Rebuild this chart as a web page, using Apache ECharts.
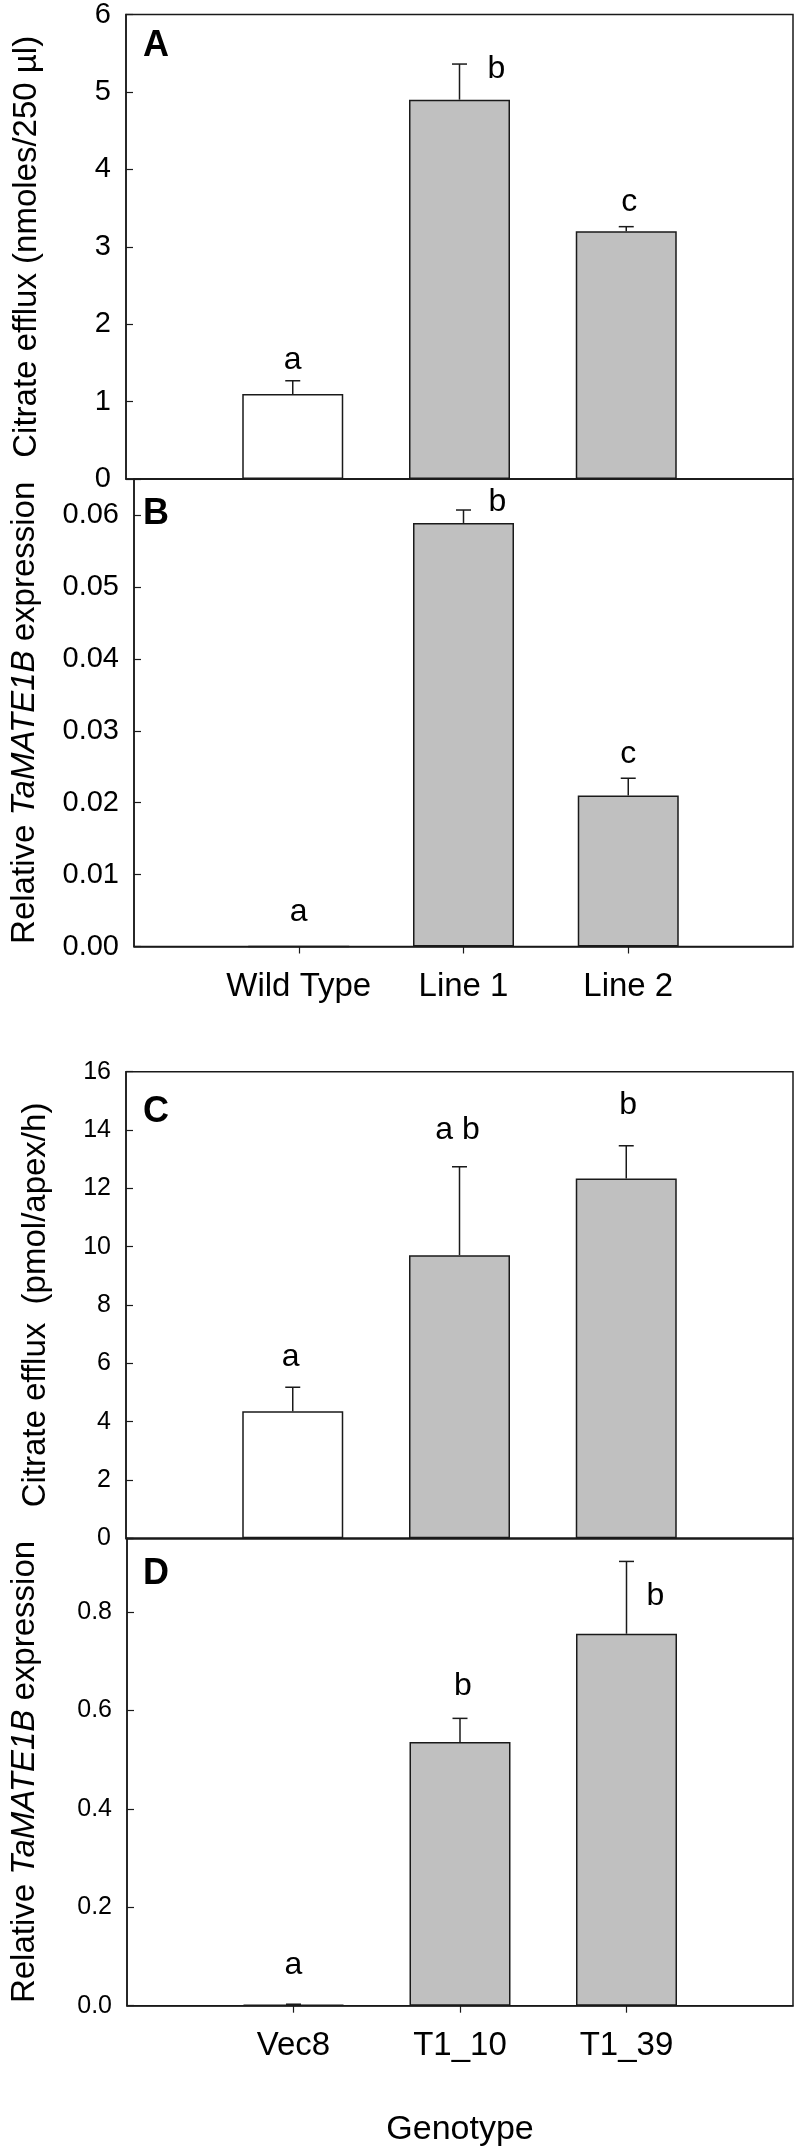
<!DOCTYPE html>
<html>
<head>
<meta charset="utf-8">
<script src="https://cdn.jsdelivr.net/npm/echarts@6/dist/echarts.min.js"></script>
<style>html,body{margin:0;padding:0;background:#fff}#c{width:797px;height:2153px}</style>
</head>
<body>
<div id="c"></div>
<script>
// ---------- data ----------
const catsTop = ['Wild Type', 'Line 1', 'Line 2'];
const citrateA = [1.10, 4.90, 3.20];
const citrateAErr = [0.17, 0.46, 0.06];
const lettersA = ['a', 'b', 'c'];

const exprB = [0, 0.0589, 0.0210];
const exprBErr = [0, 0.0018, 0.0024];
const lettersB = ['a', 'b', 'c'];

const catsBottom = ['Vec8', 'T1_10', 'T1_39'];
const citrateC = [4.36, 9.71, 12.34];
const citrateCErr = [0.82, 3.03, 1.12];
const lettersC = ['a', 'a b', 'b'];

const exprD = [0.002, 0.536, 0.756];
const exprDErr = [0.001, 0.048, 0.147];
const lettersD = ['a', 'b', 'b'];

const ticksA = [0, 1, 2, 3, 4, 5, 6];
const ticksB = [0, 0.01, 0.02, 0.03, 0.04, 0.05, 0.06];
const ticksC = [0, 2, 4, 6, 8, 10, 12, 14, 16];
const ticksD = [0, 0.2, 0.4, 0.6, 0.8];

// ---------- layout / style ----------
const FONT = 'Liberation Sans, Arial, Helvetica, sans-serif';
const INK = '#1a1a1a';
const grids = [
  {left: 126, right: 4, top: 12.7, height: 466.4},
  {left: 126, right: 4, top: 479.1, height: 467.4},
  {left: 126, right: 4, top: 1071.7, height: 466.6},
  {left: 126, right: 4, top: 1538.3, height: 467.4}
];
// letter offsets (px) relative to the top of each error bar
const offA = [[0, -21], [37, 5], [3, -24]];
const offB = [[0, -34], [34, -8], [0, -24]];
const offC = [[-2, -30], [-2, -37], [2, -41]];
const offD = [[0, -39], [3, -32], [29, 35]];

function padCats(c) { return [''].concat(c, ['']); }

function barData(vals) {
  return vals.map((v, i) => ({
    value: [i + 1, v],
    itemStyle: {color: i === 0 ? '#ffffff' : '#c0c0c0', borderColor: INK, borderWidth: 1.5}
  }));
}
function errData(vals, errs) {
  return vals.map((v, i) => [i + 1, v, errs[i]]);
}
function errSeries(idx, vals, errs, letters, offs) {
  return {
    type: 'custom', xAxisIndex: idx, yAxisIndex: idx, z: 5,
    data: errData(vals, errs),
    renderItem: function (params, api) {
      const x = api.value(0), m = api.value(1), e = api.value(2);
      const base = api.coord([x, m]);
      const top = api.coord([x, m + e]);
      const ch = [];
      if (e > 0) {
        ch.push({type: 'line', shape: {x1: base[0], y1: base[1], x2: top[0], y2: top[1]},
          style: {stroke: INK, lineWidth: 1.5}});
        ch.push({type: 'line', shape: {x1: top[0] - 7.5, y1: top[1], x2: top[0] + 7.5, y2: top[1]},
          style: {stroke: INK, lineWidth: 1.5}});
      }
      const o = offs[params.dataIndex];
      ch.push({type: 'text', x: top[0] + o[0], y: top[1] + o[1],
        style: {text: letters[params.dataIndex], fill: '#000', font: '32px ' + FONT,
          align: 'center', verticalAlign: 'middle'}});
      return {type: 'group', children: ch};
    }
  };
}

function xAxisCfg(idx, cats, showLabels) {
  return {
    type: 'category', gridIndex: idx, data: padCats(cats), boundaryGap: false,
    axisLine: {show: true, lineStyle: {color: INK, width: 1.5}},
    axisTick: {show: showLabels, inside: false, length: 7, lineStyle: {color: INK, width: 1.2},
      interval: function (i, v) { return v !== ''; }},
    axisLabel: {show: showLabels, margin: 24, fontSize: 33, fontFamily: FONT, color: '#000', interval: 0},
    splitLine: {show: false}
  };
}
function yAxisCfg(idx, min, max, interval, ticks, digits, fs, name, nameGap, margin) {
  return {
    type: 'value', gridIndex: idx, min: min, max: max, interval: interval,
    axisLine: {show: true, lineStyle: {color: INK, width: 1.5}},
    axisTick: {show: true, inside: true, length: 7, lineStyle: {color: INK, width: 1.2}},
    axisLabel: {margin: margin, fontSize: fs, fontFamily: FONT, color: '#000',
      showMaxLabel: true, showMinLabel: true,
      formatter: function (v) {
        const hit = ticks.some(t => Math.abs(t - v) < 1e-9);
        return hit ? v.toFixed(digits) : '';
      }},
    splitLine: {show: false},
    name: name, nameLocation: 'middle', nameRotate: 90, nameGap: nameGap,
    nameTextStyle: {fontSize: 33, fontFamily: FONT, color: '#000',
      rich: {n: {fontSize: 33, fontFamily: FONT, color: '#000'},
             i: {fontSize: 33, fontFamily: FONT, color: '#000', fontStyle: 'italic'}}}
  };
}

const exprName = '{n|Relative }{i|TaMATE1B}{n| expression}';

const option = {
  animation: false,
  backgroundColor: '#fff',
  grid: grids.map(g => Object.assign({show: true, borderColor: INK, borderWidth: 1.5,
    backgroundColor: 'transparent', containLabel: false}, g)),
  xAxis: [
    xAxisCfg(0, catsTop, false),
    xAxisCfg(1, catsTop, true),
    xAxisCfg(2, catsBottom, false),
    Object.assign(xAxisCfg(3, catsBottom, true), {
      name: 'Genotype', nameLocation: 'middle', nameGap: 107,
      nameTextStyle: {fontSize: 34, fontFamily: FONT, color: '#000'}
    })
  ],
  yAxis: [
    yAxisCfg(0, 0, 6, 1, ticksA, 0, 29, '{n|Citrate efflux (nmoles/250 \u00b5l)}', 83, 15),
    yAxisCfg(1, 0, 0.065, 0.01, ticksB, 2, 29, exprName, 93, 15),
    yAxisCfg(2, 0, 16, 2, ticksC, 0, 25, '{n|Citrate efflux  (pmol/apex/h)}', 74, 15),
    yAxisCfg(3, 0, 0.95, 0.2, ticksD, 1, 25, exprName, 86, 15)
  ],
  series: [
    {type: 'bar', xAxisIndex: 0, yAxisIndex: 0, barWidth: 101, data: barData(citrateA)},
    errSeries(0, citrateA, citrateAErr, lettersA, offA),
    {type: 'bar', xAxisIndex: 1, yAxisIndex: 1, barWidth: 101, data: barData(exprB)},
    errSeries(1, exprB, exprBErr, lettersB, offB),
    {type: 'bar', xAxisIndex: 2, yAxisIndex: 2, barWidth: 101, data: barData(citrateC)},
    errSeries(2, citrateC, citrateCErr, lettersC, offC),
    {type: 'bar', xAxisIndex: 3, yAxisIndex: 3, barWidth: 101, data: barData(exprD)},
    errSeries(3, exprD, exprDErr, lettersD, offD)
  ],
  graphic: [
    {type: 'text', left: 143, top: 28, style: {text: 'A', font: 'bold 36px ' + FONT, fill: '#000'}},
    {type: 'text', left: 143, top: 496, style: {text: 'B', font: 'bold 36px ' + FONT, fill: '#000'}},
    {type: 'text', left: 143, top: 1094, style: {text: 'C', font: 'bold 36px ' + FONT, fill: '#000'}},
    {type: 'text', left: 143, top: 1556, style: {text: 'D', font: 'bold 36px ' + FONT, fill: '#000'}}
  ]
};
const chart = echarts.init(document.getElementById('c'), null, {renderer: 'canvas'});
chart.setOption(option);
</script>
</body>
</html>
